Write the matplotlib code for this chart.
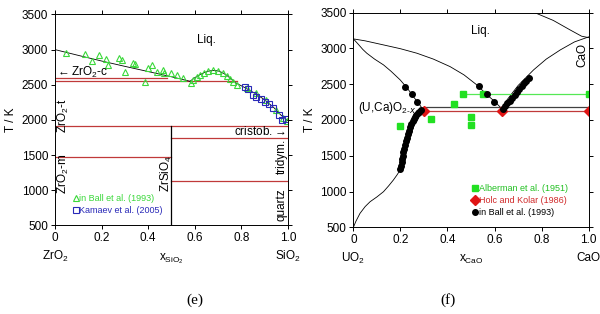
import matplotlib.pyplot as plt
import numpy as np

plt.rcParams['font.family'] = ['Liberation Sans', 'DejaVu Sans']
plt.rcParams['mathtext.fontset'] = 'custom'
plt.rcParams['mathtext.rm'] = 'Liberation Sans'
plt.rcParams['font.size'] = 8.5

# ---- (e) ZrO2 - SiO2 ----
liq_e_x = [0.0, 0.1, 0.2, 0.3, 0.4, 0.5, 0.58]
liq_e_t = [3000, 2918, 2838, 2762, 2688, 2614, 2550]
dome_x = [0.58, 0.60, 0.62, 0.64, 0.66, 0.68, 0.70, 0.72, 0.74, 0.76, 0.78]
dome_t = [2550, 2600, 2640, 2672, 2695, 2705, 2698, 2672, 2628, 2575, 2520]
liq_e2_x = [0.78, 0.82, 0.86, 0.90, 0.94, 0.97, 1.0]
liq_e2_t = [2520, 2452, 2375, 2288, 2175, 2070, 1990]

ball_e_x = [0.047, 0.129, 0.157, 0.19, 0.219, 0.229, 0.276, 0.286, 0.30, 0.336,
            0.343, 0.386, 0.40, 0.415, 0.436, 0.462, 0.468, 0.50, 0.522, 0.551,
            0.582, 0.594, 0.608, 0.622, 0.639, 0.658, 0.68, 0.70, 0.72, 0.737,
            0.751, 0.765, 0.783, 0.823, 0.865, 0.908, 0.951, 0.98, 0.997]
ball_e_t = [2955, 2932, 2837, 2922, 2861, 2780, 2875, 2851, 2685, 2813,
            2794, 2543, 2733, 2780, 2685, 2709, 2662, 2671, 2638, 2591,
            2529, 2567, 2605, 2638, 2671, 2695, 2709, 2695, 2662, 2624,
            2577, 2534, 2496, 2449, 2378, 2283, 2141, 2023, 1989]
kam_x = [0.815, 0.83, 0.851, 0.865, 0.883, 0.901, 0.92, 0.937, 0.963, 0.973, 0.991]
kam_t = [2463, 2435, 2354, 2330, 2293, 2259, 2222, 2165, 2070, 1999, 2009]

# red invariant lines: (x start, x end, T)
inv_e = [(0.0, 0.48, 2598), (0.0, 0.78, 2548), (0.0, 1.0, 1915),
         (0.5, 1.0, 1740), (0.0, 0.5, 1478), (0.5, 1.0, 1135)]

# ---- (f) UO2 - CaO ----
liq_f1_x = [0.0, 0.05, 0.128, 0.2, 0.27, 0.34, 0.411, 0.47, 0.525, 0.57, 0.60, 0.63]
liq_f1_t = [3132, 3105, 3048, 2995, 2932, 2850, 2745, 2630, 2489, 2345, 2260, 2160]
sol_f_x = [0.0, 0.01, 0.028, 0.05, 0.071, 0.1, 0.128, 0.15, 0.17, 0.185, 0.199,
           0.21, 0.225, 0.24, 0.255, 0.27, 0.285, 0.30]
sol_f_t = [500, 580, 695, 790, 858, 925, 998, 1080, 1161, 1230, 1301,
           1450, 1600, 1750, 1900, 2000, 2080, 2126]
sol_f2_x = [0.0, 0.02, 0.04, 0.057, 0.09, 0.128, 0.16, 0.199, 0.23, 0.255, 0.28, 0.30]
sol_f2_t = [3132, 3060, 2985, 2932, 2850, 2769, 2680, 2559, 2440, 2326, 2220, 2126]
liq_f2_x = [0.63, 0.653, 0.70, 0.766, 0.82, 0.88, 0.94, 1.0]
liq_f2_t = [2126, 2280, 2480, 2699, 2850, 2979, 3090, 3160]
top_f_x = [0.77, 0.85, 0.92, 0.97, 1.0]
top_f_t = [3500, 3390, 3260, 3170, 3150]

alb_x = [0.199, 0.331, 0.428, 0.468, 0.501, 0.501, 0.55, 1.0]
alb_t = [1920, 2010, 2228, 2359, 2035, 1928, 2359, 2359]
holc_x = [0.30, 0.63, 1.0]
holc_t = [2126, 2126, 2126]
ball_f_x = [0.20, 0.202, 0.205, 0.208, 0.21, 0.213, 0.216, 0.22, 0.224, 0.228,
            0.232, 0.237, 0.242, 0.247, 0.252, 0.257, 0.262, 0.268, 0.274, 0.28,
            0.286, 0.22, 0.248, 0.27,
            0.532, 0.568, 0.596, 0.636, 0.645, 0.655, 0.665, 0.675, 0.685, 0.695,
            0.705, 0.715, 0.725, 0.735, 0.745]
ball_f_t = [1310, 1360, 1410, 1460, 1500, 1550, 1600, 1650, 1700, 1750,
            1800, 1850, 1900, 1940, 1980, 2010, 2040, 2070, 2095, 2115,
            2135, 2466, 2363, 2256,
            2475, 2363, 2256, 2150, 2190, 2230, 2270, 2310, 2350, 2390,
            2430, 2470, 2510, 2550, 2585]

red = '#c03a3a'

fig = plt.figure(figsize=(6.0, 3.14), dpi=100)
ax1 = fig.add_axes([0.0917, 0.282, 0.388, 0.672])
ax2 = fig.add_axes([0.589, 0.276, 0.392, 0.684])

for ax in (ax1, ax2):
    ax.set_xlim(0, 1)
    ax.set_ylim(500, 3500)
    ax.set_xticks([0, 0.2, 0.4, 0.6, 0.8, 1.0])
    ax.set_xticklabels(['0', '0.2', '0.4', '0.6', '0.8', '1.0'])
    ax.set_yticks(np.arange(500, 3501, 500))
    ax.tick_params(direction='out', length=3, width=0.7, top=True, right=True, pad=2)
    for s in ax.spines.values():
        s.set_linewidth(0.7)
    ax.set_ylabel('T / K', labelpad=3)

# (e)
for x0, x1, t in inv_e:
    ax1.plot([x0, x1], [t, t], color=red, lw=0.9)
ax1.plot([0.5, 0.5], [500, 1915], color='black', lw=0.9)
ax1.plot(liq_e_x, liq_e_t, color='black', lw=0.6)
ax1.plot(dome_x, dome_t, color='black', lw=0.6)
ax1.plot(liq_e2_x, liq_e2_t, color='black', lw=0.6)
ax1.plot(ball_e_x, ball_e_t, ls='none', marker='^', ms=4.5, mfc='none', mec='#3ad83a', mew=0.8,
         label='in Ball et al. (1993)')
ax1.plot(kam_x, kam_t, ls='none', marker='s', ms=4.5, mfc='none', mec='#2a2ab8', mew=0.8,
         label='Kamaev et al. (2005)')
ax1.text(0.65, 3140, 'Liq.', ha='center', va='center')
ax1.text(0.0, 2680, r'$\leftarrow$ZrO$_2$-c', ha='left', va='center')
ax1.text(0.99, 1830, r'cristob.$\rightarrow$', ha='right', va='center')
ax1.text(0.035, 2060, 'ZrO$_2$-t', rotation=90, ha='center', va='center')
ax1.text(0.035, 1230, 'ZrO$_2$-m', rotation=90, ha='center', va='center')
ax1.text(0.48, 1240, 'ZrSiO$_4$', rotation=90, ha='center', va='center')
ax1.text(0.975, 1480, 'tridym.', rotation=90, ha='center', va='center')
ax1.text(0.975, 800, 'quartz', rotation=90, ha='center', va='center')
leg1 = ax1.legend(loc='lower left', bbox_to_anchor=(0.05, 0.02), frameon=False, fontsize=6.5,
                  handlelength=0.6, handletextpad=0.1, borderpad=0.2, labelspacing=0.3)
for txt, c in zip(leg1.get_texts(), ['#3ad83a', '#2a2ab8']):
    txt.set_color(c)
ax1.set_xlabel(r'x$_{\mathregular{SiO_2}}$', labelpad=5)
ax1.text(0.0, -0.145, 'ZrO$_2$', transform=ax1.transAxes, ha='center', va='center')
ax1.text(1.0, -0.145, 'SiO$_2$', transform=ax1.transAxes, ha='center', va='center')

# (f)
ax2.plot(liq_f1_x, liq_f1_t, color='black', lw=0.6)
ax2.plot(sol_f_x, sol_f_t, color='black', lw=0.6)
ax2.plot(sol_f2_x, sol_f2_t, color='black', lw=0.6)
ax2.plot(liq_f2_x, liq_f2_t, color='black', lw=0.6)
ax2.plot(top_f_x, top_f_t, color='black', lw=0.6)
ax2.plot([0.30, 1.0], [2186, 2186], color='#404040', lw=0.9)
ax2.plot([0.30, 1.0], [2126, 2126], color=red, lw=0.9)
ax2.plot([0.468, 1.0], [2359, 2359], color='#55e855', lw=0.9)
ax2.plot(alb_x, alb_t, ls='none', marker='s', ms=4, color='#22e022', label='Alberman et al. (1951)')
ax2.plot(holc_x, holc_t, ls='none', marker='D', ms=5, color='#e01515', label='Holc and Kolar (1986)')
ax2.plot(ball_f_x, ball_f_t, ls='none', marker='o', ms=4, color='black', label='in Ball et al. (1993)')
ax2.text(0.54, 3240, 'Liq.', ha='center', va='center')
ax2.text(0.265, 2165, '(U,Ca)O$_{2\u2010x}$', ha='right', va='center')
ax2.text(0.975, 2910, 'CaO', rotation=90, ha='center', va='center')
leg2 = ax2.legend(loc='lower left', bbox_to_anchor=(0.48, 0.02), frameon=False, fontsize=6.5,
                  handlelength=0.6, handletextpad=0.1, borderpad=0.2, labelspacing=0.3,
                  markerscale=1.0)
for txt, c in zip(leg2.get_texts(), ['#22c022', '#d02a2a', 'black']):
    txt.set_color(c)
ax2.set_xlabel(r'x$_{\mathregular{CaO}}$', labelpad=5)
ax2.text(0.0, -0.145, 'UO$_2$', transform=ax2.transAxes, ha='center', va='center')
ax2.text(1.0, -0.145, 'CaO', transform=ax2.transAxes, ha='center', va='center')

fig.text(195 / 600, 1 - 300 / 314, '(e)', family='Liberation Serif', fontsize=11, ha='center', va='center')
fig.text(448 / 600, 1 - 300 / 314, '(f)', family='Liberation Serif', fontsize=11, ha='center', va='center')

fig.savefig('out.png', dpi=100)
